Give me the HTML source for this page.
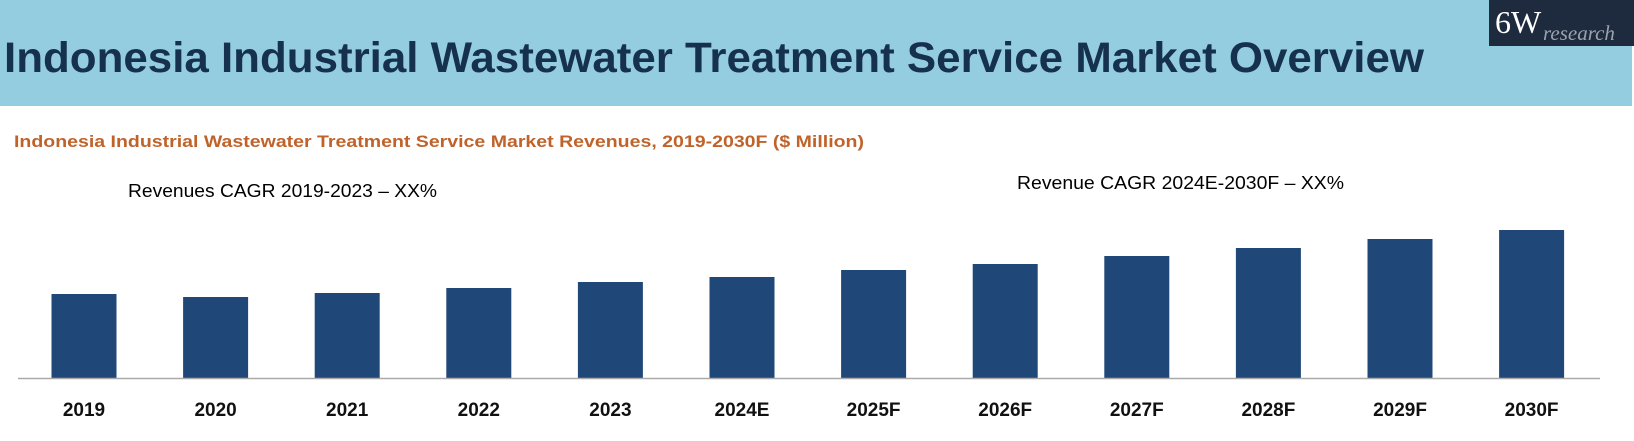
<!DOCTYPE html>
<html><head><meta charset="utf-8"><style>
html,body{margin:0;padding:0;background:#fff;}
svg{display:block;font-family:"Liberation Sans",sans-serif;}
</style></head><body>
<svg width="1634" height="441" viewBox="0 0 1634 441">
<rect x="0" y="0" width="1632" height="106" fill="#93cddf"/>
<text x="4" y="72" font-size="43" font-weight="bold" fill="#16304f" textLength="1420" lengthAdjust="spacingAndGlyphs">Indonesia Industrial Wastewater Treatment Service Market Overview</text>
<g>
<rect x="1489" y="0" width="145" height="46" fill="#1e2a3d"/>
<text x="1495" y="33" font-family="Liberation Serif,serif" font-size="32" fill="#fff">6W</text>
<text x="1543" y="40" font-family="Liberation Serif,serif" font-style="italic" font-size="21" fill="#9aa3ad">research</text>
</g>
<text x="14" y="147" font-size="17" font-weight="bold" fill="#c0632a" textLength="850" lengthAdjust="spacingAndGlyphs">Indonesia Industrial Wastewater Treatment Service Market Revenues, 2019-2030F ($ Million)</text>
<text x="128" y="197" font-size="18" fill="#000" textLength="309" lengthAdjust="spacingAndGlyphs">Revenues CAGR 2019-2023 – XX%</text>
<text x="1017" y="189" font-size="18" fill="#000" textLength="327" lengthAdjust="spacingAndGlyphs">Revenue CAGR 2024E-2030F – XX%</text>
<g id="bars"></g>
<line x1="18" y1="378.5" x2="1600" y2="378.5" stroke="#aaaaaa" stroke-width="1.5"/>
<g id="labels"></g>
</svg>
<script>
const categories = ["2019","2020","2021","2022","2023","2024E","2025F","2026F","2027F","2028F","2029F","2030F"];
const values = [84,81,85,90,96,101,108,114,122,130,139,148];
const ns = "http://www.w3.org/2000/svg";
const baseY = 378, firstX = 84, step = 131.6, barW = 65;
function xPos(i){ return firstX + i*step; }
function yPos(v){ return baseY - v; }
const bg = document.getElementById('bars'), lg = document.getElementById('labels');
categories.forEach((c,i)=>{
  const r = document.createElementNS(ns,'rect');
  r.setAttribute('x', xPos(i)-barW/2);
  r.setAttribute('y', yPos(values[i]));
  r.setAttribute('width', barW);
  r.setAttribute('height', baseY - yPos(values[i]));
  r.setAttribute('fill', '#1f4879');
  
  
  bg.appendChild(r);
  const t = document.createElementNS(ns,'text');
  t.setAttribute('x', xPos(i));
  t.setAttribute('y', 416);
  t.setAttribute('text-anchor', 'middle');
  t.setAttribute('font-size', '19');
  t.setAttribute('font-weight', 'bold');
  t.setAttribute('fill', '#111');
  t.textContent = c;
  
  
  lg.appendChild(t);
});
</script>
</body></html>
